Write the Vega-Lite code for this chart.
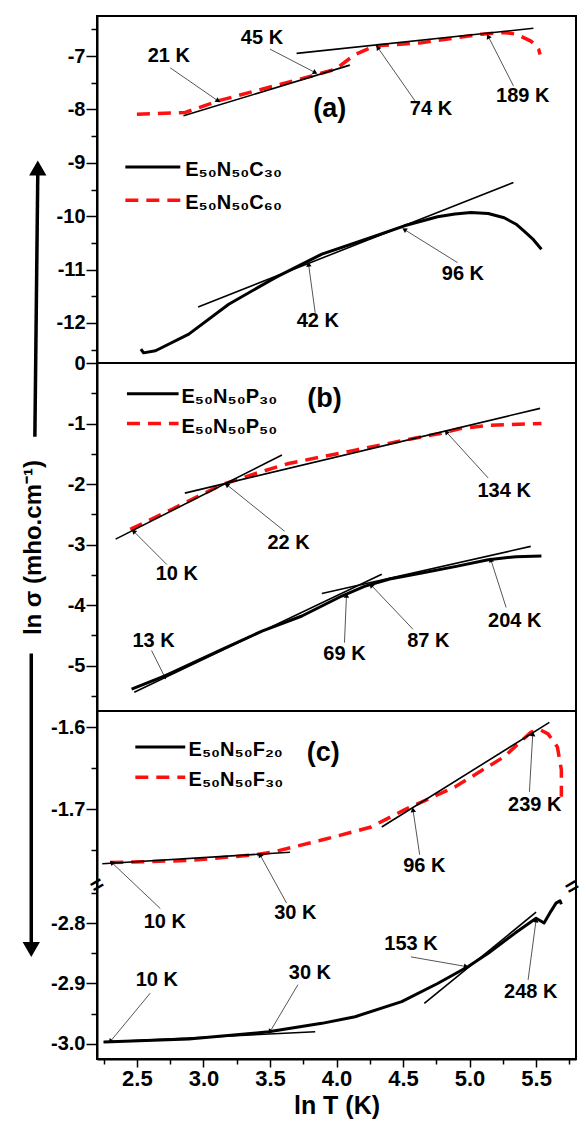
{
  "$schema": "https://vega.github.io/schema/vega-lite/v6.json",
  "background": "white",
  "padding": {"left": 21, "top": 15, "right": 2, "bottom": 2},
  "spacing": 0,
  "bounds": "flush",
  "datasets": {
    "curves": [
      {"p": "a", "s": "C60", "k": 1, "x": 2.50, "y": -8.09},
      {"p": "a", "s": "C60", "k": 2, "x": 2.86, "y": -8.06},
      {"p": "a", "s": "C60", "k": 3, "x": 3.11, "y": -7.84},
      {"p": "a", "s": "C60", "k": 4, "x": 3.44, "y": -7.62},
      {"p": "a", "s": "C60", "k": 5, "x": 3.76, "y": -7.41},
      {"p": "a", "s": "C60", "k": 6, "x": 3.99, "y": -7.25},
      {"p": "a", "s": "C60", "k": 7, "x": 4.14, "y": -6.97},
      {"p": "a", "s": "C60", "k": 8, "x": 4.29, "y": -6.81},
      {"p": "a", "s": "C60", "k": 9, "x": 4.64, "y": -6.75},
      {"p": "a", "s": "C60", "k": 10, "x": 5.09, "y": -6.59},
      {"p": "a", "s": "C60", "k": 11, "x": 5.26, "y": -6.56},
      {"p": "a", "s": "C60", "k": 12, "x": 5.35, "y": -6.59},
      {"p": "a", "s": "C60", "k": 13, "x": 5.41, "y": -6.66},
      {"p": "a", "s": "C60", "k": 14, "x": 5.46, "y": -6.72},
      {"p": "a", "s": "C60", "k": 15, "x": 5.49, "y": -6.78},
      {"p": "a", "s": "C60", "k": 16, "x": 5.52, "y": -6.88},
      {"p": "a", "s": "C60", "k": 17, "x": 5.53, "y": -6.97},
      {"p": "a", "s": "C30", "k": 1, "x": 2.53, "y": -12.49},
      {"p": "a", "s": "C30", "k": 2, "x": 2.55, "y": -12.56},
      {"p": "a", "s": "C30", "k": 3, "x": 2.64, "y": -12.52},
      {"p": "a", "s": "C30", "k": 4, "x": 2.89, "y": -12.21},
      {"p": "a", "s": "C30", "k": 5, "x": 3.19, "y": -11.65},
      {"p": "a", "s": "C30", "k": 6, "x": 3.54, "y": -11.15},
      {"p": "a", "s": "C30", "k": 7, "x": 3.89, "y": -10.71},
      {"p": "a", "s": "C30", "k": 8, "x": 4.26, "y": -10.40},
      {"p": "a", "s": "C30", "k": 9, "x": 4.51, "y": -10.18},
      {"p": "a", "s": "C30", "k": 10, "x": 4.76, "y": -10.01},
      {"p": "a", "s": "C30", "k": 11, "x": 4.89, "y": -9.96},
      {"p": "a", "s": "C30", "k": 12, "x": 5.01, "y": -9.93},
      {"p": "a", "s": "C30", "k": 13, "x": 5.14, "y": -9.95},
      {"p": "a", "s": "C30", "k": 14, "x": 5.26, "y": -10.03},
      {"p": "a", "s": "C30", "k": 15, "x": 5.35, "y": -10.15},
      {"p": "a", "s": "C30", "k": 16, "x": 5.41, "y": -10.28},
      {"p": "a", "s": "C30", "k": 17, "x": 5.48, "y": -10.44},
      {"p": "a", "s": "C30", "k": 18, "x": 5.54, "y": -10.62},
      {"p": "b", "s": "P50", "k": 1, "x": 2.45, "y": -2.75},
      {"p": "b", "s": "P50", "k": 2, "x": 2.76, "y": -2.42},
      {"p": "b", "s": "P50", "k": 3, "x": 3.14, "y": -2.01},
      {"p": "b", "s": "P50", "k": 4, "x": 3.40, "y": -1.82},
      {"p": "b", "s": "P50", "k": 5, "x": 3.64, "y": -1.66},
      {"p": "b", "s": "P50", "k": 6, "x": 4.14, "y": -1.44},
      {"p": "b", "s": "P50", "k": 7, "x": 4.64, "y": -1.22},
      {"p": "b", "s": "P50", "k": 8, "x": 4.79, "y": -1.16},
      {"p": "b", "s": "P50", "k": 9, "x": 4.94, "y": -1.08},
      {"p": "b", "s": "P50", "k": 10, "x": 5.14, "y": -1.03},
      {"p": "b", "s": "P50", "k": 11, "x": 5.54, "y": -1.00},
      {"p": "b", "s": "P30", "k": 1, "x": 2.46, "y": -5.39},
      {"p": "b", "s": "P30", "k": 2, "x": 2.71, "y": -5.17},
      {"p": "b", "s": "P30", "k": 3, "x": 3.14, "y": -4.73},
      {"p": "b", "s": "P30", "k": 4, "x": 3.44, "y": -4.43},
      {"p": "b", "s": "P30", "k": 5, "x": 3.74, "y": -4.18},
      {"p": "b", "s": "P30", "k": 6, "x": 4.04, "y": -3.85},
      {"p": "b", "s": "P30", "k": 7, "x": 4.21, "y": -3.69},
      {"p": "b", "s": "P30", "k": 8, "x": 4.40, "y": -3.57},
      {"p": "b", "s": "P30", "k": 9, "x": 4.64, "y": -3.47},
      {"p": "b", "s": "P30", "k": 10, "x": 4.90, "y": -3.36},
      {"p": "b", "s": "P30", "k": 11, "x": 5.14, "y": -3.25},
      {"p": "b", "s": "P30", "k": 12, "x": 5.35, "y": -3.20},
      {"p": "b", "s": "P30", "k": 13, "x": 5.54, "y": -3.19},
      {"p": "c", "s": "F30", "k": 1, "x": 2.30, "y": -1.7655},
      {"p": "c", "s": "F30", "k": 2, "x": 2.89, "y": -1.763},
      {"p": "c", "s": "F30", "k": 3, "x": 3.39, "y": -1.756},
      {"p": "c", "s": "F30", "k": 4, "x": 3.54, "y": -1.752},
      {"p": "c", "s": "F30", "k": 5, "x": 3.89, "y": -1.738},
      {"p": "c", "s": "F30", "k": 6, "x": 4.26, "y": -1.722},
      {"p": "c", "s": "F30", "k": 7, "x": 4.51, "y": -1.701},
      {"p": "c", "s": "F30", "k": 8, "x": 4.89, "y": -1.673},
      {"p": "c", "s": "F30", "k": 9, "x": 5.26, "y": -1.636},
      {"p": "c", "s": "F30", "k": 10, "x": 5.46, "y": -1.606},
      {"p": "c", "s": "F30", "k": 11, "x": 5.53, "y": -1.603},
      {"p": "c", "s": "F30", "k": 12, "x": 5.59, "y": -1.608},
      {"p": "c", "s": "F30", "k": 13, "x": 5.66, "y": -1.624},
      {"p": "c", "s": "F30", "k": 14, "x": 5.69, "y": -1.652},
      {"p": "c", "s": "F30", "k": 15, "x": 5.69, "y": -1.685},
      {"p": "c", "s": "F20", "k": 1, "x": 2.25, "y": -2.997},
      {"p": "c", "s": "F20", "k": 2, "x": 2.89, "y": -2.992},
      {"p": "c", "s": "F20", "k": 3, "x": 3.49, "y": -2.980},
      {"p": "c", "s": "F20", "k": 4, "x": 3.89, "y": -2.966},
      {"p": "c", "s": "F20", "k": 5, "x": 4.14, "y": -2.955},
      {"p": "c", "s": "F20", "k": 6, "x": 4.49, "y": -2.930},
      {"p": "c", "s": "F20", "k": 7, "x": 4.76, "y": -2.900},
      {"p": "c", "s": "F20", "k": 8, "x": 4.99, "y": -2.872},
      {"p": "c", "s": "F20", "k": 9, "x": 5.14, "y": -2.850},
      {"p": "c", "s": "F20", "k": 10, "x": 5.34, "y": -2.817},
      {"p": "c", "s": "F20", "k": 11, "x": 5.50, "y": -2.792},
      {"p": "c", "s": "F20", "k": 12, "x": 5.56, "y": -2.800},
      {"p": "c", "s": "F20", "k": 13, "x": 5.61, "y": -2.781},
      {"p": "c", "s": "F20", "k": 14, "x": 5.65, "y": -2.767},
      {"p": "c", "s": "F20", "k": 15, "x": 5.68, "y": -2.763},
      {"p": "c", "s": "F20", "k": 16, "x": 5.69, "y": -2.769}
    ],
    "fits": [
      {"p": "a", "id": "a1", "x": 2.85, "y": -8.12}, {"p": "a", "id": "a1", "x": 4.10, "y": -7.17},
      {"p": "a", "id": "a2", "x": 3.70, "y": -6.95}, {"p": "a", "id": "a2", "x": 5.48, "y": -6.48},
      {"p": "a", "id": "a3", "x": 2.96, "y": -11.70}, {"p": "a", "id": "a3", "x": 5.33, "y": -9.37},
      {"p": "b", "id": "b1", "x": 2.34, "y": -2.91}, {"p": "b", "id": "b1", "x": 3.59, "y": -1.52},
      {"p": "b", "id": "b2", "x": 2.86, "y": -2.15}, {"p": "b", "id": "b2", "x": 5.53, "y": -0.75},
      {"p": "b", "id": "b3", "x": 2.48, "y": -5.44}, {"p": "b", "id": "b3", "x": 4.34, "y": -3.49},
      {"p": "b", "id": "b4", "x": 3.89, "y": -3.81}, {"p": "b", "id": "b4", "x": 5.46, "y": -3.03},
      {"p": "c", "id": "c1", "x": 2.24, "y": -1.767}, {"p": "c", "id": "c1", "x": 3.65, "y": -1.753},
      {"p": "c", "id": "c2", "x": 4.34, "y": -1.722}, {"p": "c", "id": "c2", "x": 5.60, "y": -1.594},
      {"p": "c", "id": "c3", "x": 2.25, "y": -2.997}, {"p": "c", "id": "c3", "x": 3.84, "y": -2.980},
      {"p": "c", "id": "c4", "x": 4.66, "y": -2.933}, {"p": "c", "id": "c4", "x": 5.50, "y": -2.782}
    ],
    "notes": [
      {"p": "a", "label": "21 K", "tx": 2.74, "ty": -7.00, "x1": 2.75, "y1": -7.22, "x2": 3.11, "y2": -7.84, "dir": 124.6},
      {"p": "a", "label": "45 K", "tx": 3.44, "ty": -6.66, "x1": 3.50, "y1": -6.87, "x2": 3.84, "y2": -7.31, "dir": 117.5},
      {"p": "a", "label": "74 K", "tx": 4.71, "ty": -8.00, "x1": 4.59, "y1": -7.84, "x2": 4.31, "y2": -6.84, "dir": -34.5},
      {"p": "a", "label": "189 K", "tx": 5.40, "ty": -7.75, "x1": 5.33, "y1": -7.56, "x2": 5.14, "y2": -6.63, "dir": -26.6},
      {"p": "a", "label": "96 K", "tx": 4.95, "ty": -11.09, "x1": 4.91, "y1": -10.87, "x2": 4.51, "y2": -10.25, "dir": -57.9},
      {"p": "a", "label": "42 K", "tx": 3.86, "ty": -11.96, "x1": 3.84, "y1": -11.81, "x2": 3.79, "y2": -10.90, "dir": -7.9},
      {"p": "b", "label": "10 K", "tx": 2.80, "ty": -3.49, "x1": 2.725, "y1": -3.33, "x2": 2.475, "y2": -2.78, "dir": -45},
      {"p": "b", "label": "22 K", "tx": 3.64, "ty": -2.97, "x1": 3.61, "y1": -2.78, "x2": 3.175, "y2": -2.01, "dir": -51.4},
      {"p": "b", "label": "134 K", "tx": 5.26, "ty": -2.12, "x1": 5.14, "y1": -1.90, "x2": 4.825, "y2": -1.14, "dir": -41.8},
      {"p": "b", "label": "13 K", "tx": 2.625, "ty": -4.59, "x1": 2.61, "y1": -4.75, "x2": 2.71, "y2": -5.19, "dir": 153.4},
      {"p": "b", "label": "69 K", "tx": 4.06, "ty": -4.81, "x1": 4.06, "y1": -4.62, "x2": 4.075, "y2": -3.84, "dir": 1.9},
      {"p": "b", "label": "87 K", "tx": 4.69, "ty": -4.59, "x1": 4.575, "y1": -4.40, "x2": 4.26, "y2": -3.67, "dir": -43.5},
      {"p": "b", "label": "204 K", "tx": 5.34, "ty": -4.26, "x1": 5.275, "y1": -4.04, "x2": 5.16, "y2": -3.25, "dir": -17.2},
      {"p": "c", "label": "10 K", "tx": 2.71, "ty": -2.798, "x1": 2.676, "y1": -2.776, "x2": 2.31, "y2": -1.7654, "dir": -47.1},
      {"p": "c", "label": "30 K", "tx": 3.69, "ty": -2.784, "x1": 3.625, "y1": -2.767, "x2": 3.425, "y2": -1.756, "dir": -28.8},
      {"p": "c", "label": "96 K", "tx": 4.66, "ty": -1.770, "x1": 4.625, "y1": -1.756, "x2": 4.575, "y2": -1.701, "dir": -8.5},
      {"p": "c", "label": "239 K", "tx": 5.49, "ty": -1.695, "x1": 5.45, "y1": -1.679, "x2": 5.475, "y2": -1.608, "dir": 3.2},
      {"p": "c", "label": "10 K", "tx": 2.65, "ty": -2.894, "x1": 2.60, "y1": -2.916, "x2": 2.30, "y2": -2.996, "dir": -140.4},
      {"p": "c", "label": "30 K", "tx": 3.80, "ty": -2.883, "x1": 3.71, "y1": -2.902, "x2": 3.50, "y2": -2.980, "dir": -148.8},
      {"p": "c", "label": "153 K", "tx": 4.56, "ty": -2.834, "x1": 4.56, "y1": -2.856, "x2": 4.975, "y2": -2.872, "dir": 100.3},
      {"p": "c", "label": "248 K", "tx": 5.46, "ty": -2.914, "x1": 5.44, "y1": -2.894, "x2": 5.50, "y2": -2.795, "dir": 7.9}
    ],
    "keys": [
      {"p": "a", "s": "C30", "label": "E₅₀N₅₀C₃₀"},
      {"p": "a", "s": "C60", "label": "E₅₀N₅₀C₆₀"},
      {"p": "b", "s": "P30", "label": "E₅₀N₅₀P₃₀"},
      {"p": "b", "s": "P50", "label": "E₅₀N₅₀P₅₀"},
      {"p": "c", "s": "F20", "label": "E₅₀N₅₀F₂₀"},
      {"p": "c", "s": "F30", "label": "E₅₀N₅₀F₃₀"}
    ],
    "tags": [
      {"p": "a", "tag": "(a)"},
      {"p": "b", "tag": "(b)"},
      {"p": "c", "tag": "(c)"},
      {"p": "y", "tag": "ln σ (mho.cm⁻¹)"},
      {"p": "break", "tag": "="}
    ]
  },
  "vconcat": [
    {
      "width": 479,
      "height": 347,
      "resolve": {"axis": {"y": "independent"}},
      "layer": [
        {
          "data": {"name": "curves"},
          "transform": [{"filter": "datum.p === 'a' && datum.s === 'C30'"}],
          "mark": {"type": "line", "color": "black", "strokeWidth": 3, "strokeJoin": "round"},
          "encoding": {
            "x": {"field": "x", "type": "quantitative", "scale": {"domain": [2.2, 5.8], "nice": false, "zero": false}, "axis": null},
            "y": {
              "field": "y", "type": "quantitative",
              "scale": {"domain": [-12.75, -6.25], "nice": false, "zero": false},
              "axis": {"title": null, "values": [-12, -11, -10, -9, -8, -7], "labelExpr": "'-' + format(-datum.value, 'd')", "tickSize": 11}
            },
            "order": {"field": "k"}
          }
        },
        {
          "data": {"name": "curves"},
          "transform": [{"filter": "datum.p === 'a' && datum.s === 'C60'"}],
          "mark": {"type": "line", "color": "#ff1010", "strokeWidth": 3.5, "strokeDash": [13, 8]},
          "encoding": {
            "x": {"field": "x", "type": "quantitative", "axis": null},
            "y": {"field": "y", "type": "quantitative", "axis": {"title": null, "orient": "left", "values": [-12.5, -11.5, -10.5, -9.5, -8.5, -7.5, -6.5], "labels": false, "domain": false, "tickSize": 6}},
            "order": {"field": "k"}
          }
        },
        {
          "data": {"name": "fits"},
          "transform": [{"filter": "datum.p === 'a'"}],
          "mark": {"type": "line", "color": "black", "strokeWidth": 1.6},
          "encoding": {
            "x": {"field": "x", "type": "quantitative", "axis": null},
            "y": {"field": "y", "type": "quantitative", "axis": null},
            "detail": {"field": "id"}
          }
        },
        {
          "data": {"name": "notes"},
          "transform": [{"filter": "datum.p === 'a'"}],
          "mark": {"type": "rule", "color": "#555555", "strokeWidth": 1},
          "encoding": {
            "x": {"field": "x1", "type": "quantitative", "axis": null},
            "y": {"field": "y1", "type": "quantitative", "axis": null},
            "x2": {"field": "x2"},
            "y2": {"field": "y2"}
          }
        },
        {
          "data": {"name": "notes"},
          "transform": [{"filter": "datum.p === 'a'"}],
          "mark": {"type": "point", "shape": "triangle-up", "filled": true, "color": "black", "opacity": 1, "size": 30},
          "encoding": {
            "x": {"field": "x2", "type": "quantitative", "axis": null},
            "y": {"field": "y2", "type": "quantitative", "axis": null},
            "angle": {"field": "dir", "type": "quantitative", "scale": null}
          }
        },
        {
          "data": {"name": "notes"},
          "transform": [{"filter": "datum.p === 'a'"}],
          "mark": {"type": "text", "fontSize": 20, "fontWeight": "bold", "color": "black", "align": "center", "baseline": "middle"},
          "encoding": {
            "x": {"field": "tx", "type": "quantitative", "axis": null},
            "y": {"field": "ty", "type": "quantitative", "axis": null},
            "text": {"field": "label"}
          }
        },
        {
          "data": {"name": "tags"},
          "transform": [{"filter": "datum.p === 'a'"}],
          "mark": {"type": "text", "fontSize": 27, "fontWeight": "bold", "color": "black", "align": "center", "baseline": "middle"},
          "encoding": {
            "x": {"datum": 3.95, "type": "quantitative", "axis": null},
            "y": {"datum": -8.0, "type": "quantitative", "axis": null},
            "text": {"field": "tag"}
          }
        },
        {
          "data": {"name": "keys"},
          "transform": [{"filter": "datum.s === 'C30'"}],
          "layer": [
            {
              "mark": {"type": "rule", "color": "black", "strokeWidth": 3},
              "encoding": {
                "x": {"datum": 2.413, "type": "quantitative", "axis": null},
                "x2": {"datum": 2.826},
                "y": {"datum": -9.08, "type": "quantitative", "axis": null}
              }
            },
            {
              "mark": {"type": "text", "fontSize": 20, "fontWeight": "bold", "align": "left", "baseline": "middle", "dy": 3, "color": "black"},
              "encoding": {
                "x": {"datum": 2.863, "type": "quantitative", "axis": null},
                "y": {"datum": -9.08, "type": "quantitative", "axis": null},
                "text": {"field": "label"}
              }
            }
          ]
        },
        {
          "data": {"name": "keys"},
          "transform": [{"filter": "datum.s === 'C60'"}],
          "layer": [
            {
              "mark": {"type": "rule", "color": "#ff1010", "strokeWidth": 3.5, "strokeDash": [13, 8]},
              "encoding": {
                "x": {"datum": 2.413, "type": "quantitative", "axis": null},
                "x2": {"datum": 2.826},
                "y": {"datum": -9.70, "type": "quantitative", "axis": null}
              }
            },
            {
              "mark": {"type": "text", "fontSize": 20, "fontWeight": "bold", "align": "left", "baseline": "middle", "dy": 3, "color": "black"},
              "encoding": {
                "x": {"datum": 2.863, "type": "quantitative", "axis": null},
                "y": {"datum": -9.70, "type": "quantitative", "axis": null},
                "text": {"field": "label"}
              }
            }
          ]
        }
      ]
    },
    {
      "width": 479,
      "height": 348,
      "resolve": {"axis": {"y": "independent"}},
      "layer": [
        {
          "data": {"name": "curves"},
          "transform": [{"filter": "datum.p === 'b' && datum.s === 'P30'"}],
          "mark": {"type": "line", "color": "black", "strokeWidth": 3, "strokeJoin": "round"},
          "encoding": {
            "x": {"field": "x", "type": "quantitative", "scale": {"domain": [2.2, 5.8], "nice": false, "zero": false}, "axis": null},
            "y": {
              "field": "y", "type": "quantitative",
              "scale": {"domain": [-5.75, 0], "nice": false, "zero": false},
              "axis": {"title": null, "values": [-5, -4, -3, -2, -1, 0], "labelExpr": "datum.value < 0 ? '-' + format(-datum.value, 'd') : '0'", "tickSize": 11}
            },
            "order": {"field": "k"}
          }
        },
        {
          "data": {"name": "curves"},
          "transform": [{"filter": "datum.p === 'b' && datum.s === 'P50'"}],
          "mark": {"type": "line", "color": "#ff1010", "strokeWidth": 3.5, "strokeDash": [13, 8]},
          "encoding": {
            "x": {"field": "x", "type": "quantitative", "axis": null},
            "y": {"field": "y", "type": "quantitative", "axis": {"title": null, "orient": "left", "values": [-5.5, -4.5, -3.5, -2.5, -1.5, -0.5], "labels": false, "domain": false, "tickSize": 6}},
            "order": {"field": "k"}
          }
        },
        {
          "data": {"name": "fits"},
          "transform": [{"filter": "datum.p === 'b'"}],
          "mark": {"type": "line", "color": "black", "strokeWidth": 1.6},
          "encoding": {
            "x": {"field": "x", "type": "quantitative", "axis": null},
            "y": {"field": "y", "type": "quantitative", "axis": null},
            "detail": {"field": "id"}
          }
        },
        {
          "data": {"name": "notes"},
          "transform": [{"filter": "datum.p === 'b'"}],
          "mark": {"type": "rule", "color": "#555555", "strokeWidth": 1},
          "encoding": {
            "x": {"field": "x1", "type": "quantitative", "axis": null},
            "y": {"field": "y1", "type": "quantitative", "axis": null},
            "x2": {"field": "x2"},
            "y2": {"field": "y2"}
          }
        },
        {
          "data": {"name": "notes"},
          "transform": [{"filter": "datum.p === 'b'"}],
          "mark": {"type": "point", "shape": "triangle-up", "filled": true, "color": "black", "opacity": 1, "size": 30},
          "encoding": {
            "x": {"field": "x2", "type": "quantitative", "axis": null},
            "y": {"field": "y2", "type": "quantitative", "axis": null},
            "angle": {"field": "dir", "type": "quantitative", "scale": null}
          }
        },
        {
          "data": {"name": "notes"},
          "transform": [{"filter": "datum.p === 'b'"}],
          "mark": {"type": "text", "fontSize": 20, "fontWeight": "bold", "color": "black", "align": "center", "baseline": "middle"},
          "encoding": {
            "x": {"field": "tx", "type": "quantitative", "axis": null},
            "y": {"field": "ty", "type": "quantitative", "axis": null},
            "text": {"field": "label"}
          }
        },
        {
          "data": {"name": "tags"},
          "transform": [{"filter": "datum.p === 'b'"}],
          "mark": {"type": "text", "fontSize": 27, "fontWeight": "bold", "color": "black", "align": "center", "baseline": "middle"},
          "encoding": {
            "x": {"datum": 3.91, "type": "quantitative", "axis": null},
            "y": {"datum": -0.59, "type": "quantitative", "axis": null},
            "text": {"field": "tag"}
          }
        },
        {
          "data": {"name": "keys"},
          "transform": [{"filter": "datum.s === 'P30'"}],
          "layer": [
            {
              "mark": {"type": "rule", "color": "black", "strokeWidth": 3},
              "encoding": {
                "x": {"datum": 2.425, "type": "quantitative", "axis": null},
                "x2": {"datum": 2.813},
                "y": {"datum": -0.51, "type": "quantitative", "axis": null}
              }
            },
            {
              "mark": {"type": "text", "fontSize": 20, "fontWeight": "bold", "align": "left", "baseline": "middle", "dy": 3, "color": "black"},
              "encoding": {
                "x": {"datum": 2.835, "type": "quantitative", "axis": null},
                "y": {"datum": -0.51, "type": "quantitative", "axis": null},
                "text": {"field": "label"}
              }
            }
          ]
        },
        {
          "data": {"name": "keys"},
          "transform": [{"filter": "datum.s === 'P50'"}],
          "layer": [
            {
              "mark": {"type": "rule", "color": "#ff1010", "strokeWidth": 3.5, "strokeDash": [13, 8]},
              "encoding": {
                "x": {"datum": 2.425, "type": "quantitative", "axis": null},
                "x2": {"datum": 2.813},
                "y": {"datum": -1.0, "type": "quantitative", "axis": null}
              }
            },
            {
              "mark": {"type": "text", "fontSize": 20, "fontWeight": "bold", "align": "left", "baseline": "middle", "dy": 3, "color": "black"},
              "encoding": {
                "x": {"datum": 2.835, "type": "quantitative", "axis": null},
                "y": {"datum": -1.0, "type": "quantitative", "axis": null},
                "text": {"field": "label"}
              }
            }
          ]
        },
        {
          "data": {"name": "tags"},
          "transform": [{"filter": "datum.p === 'y'"}],
          "layer": [
            {
              "mark": {"type": "rule", "color": "black", "strokeWidth": 3.5},
              "encoding": {
                "x": {"datum": 1.755, "type": "quantitative", "axis": null},
                "y": {"datum": 3.14, "type": "quantitative", "axis": null},
                "x2": {"datum": 1.733},
                "y2": {"datum": -1.22}
              }
            },
            {
              "mark": {"type": "point", "shape": "triangle-up", "filled": true, "color": "black", "opacity": 1, "size": 300},
              "encoding": {
                "x": {"datum": 1.755, "type": "quantitative", "axis": null},
                "y": {"datum": 3.22, "type": "quantitative", "axis": null}
              }
            },
            {
              "mark": {"type": "rule", "color": "black", "strokeWidth": 3.5},
              "encoding": {
                "x": {"datum": 1.706, "type": "quantitative", "axis": null},
                "y": {"datum": -4.80, "type": "quantitative", "axis": null},
                "x2": {"datum": 1.706},
                "y2": {"datum": -9.62}
              }
            },
            {
              "mark": {"type": "point", "shape": "triangle-down", "filled": true, "color": "black", "opacity": 1, "size": 300},
              "encoding": {
                "x": {"datum": 1.706, "type": "quantitative", "axis": null},
                "y": {"datum": -9.69, "type": "quantitative", "axis": null}
              }
            },
            {
              "mark": {"type": "text", "fontSize": 24, "fontWeight": "bold", "color": "black", "align": "center", "baseline": "middle", "angle": 270},
              "encoding": {
                "x": {"datum": 1.730, "type": "quantitative", "axis": null},
                "y": {"datum": -3.05, "type": "quantitative", "axis": null},
                "text": {"field": "tag"}
              }
            }
          ]
        }
      ]
    },
    {
      "width": 479,
      "height": 348,
      "resolve": {"axis": {"x": "independent", "y": "independent"}},
      "layer": [
        {
          "data": {"name": "curves"},
          "transform": [{"filter": "datum.p === 'c' && datum.s === 'F20'"}],
          "mark": {"type": "line", "color": "black", "strokeWidth": 3, "strokeJoin": "round"},
          "encoding": {
            "x": {
              "field": "x", "type": "quantitative",
              "scale": {"domain": [2.2, 5.8], "nice": false, "zero": false},
              "axis": {"title": "ln T (K)", "values": [2.5, 3, 3.5, 4, 4.5, 5, 5.5], "format": ".1f", "tickSize": 8}
            },
            "y": {
              "field": "y", "type": "quantitative",
              "scale": {"domain": [-3.025, -2.737, -1.793, -1.58], "range": [348, 174, 174, 0], "nice": false, "zero": false},
              "axis": {"title": null, "values": [-3.0, -2.9, -2.8, -1.7, -1.6], "labelExpr": "'-' + format(-datum.value, '.1f')", "tickSize": 11}
            },
            "order": {"field": "k"}
          }
        },
        {
          "data": {"name": "curves"},
          "transform": [{"filter": "datum.p === 'c' && datum.s === 'F30'"}],
          "mark": {"type": "line", "color": "#ff1010", "strokeWidth": 3.5, "strokeDash": [13, 8]},
          "encoding": {
            "x": {"field": "x", "type": "quantitative", "axis": {"title": null, "orient": "bottom", "values": [2.25, 2.75, 3.25, 3.75, 4.25, 4.75, 5.25, 5.75], "labels": false, "domain": false, "tickSize": 5}},
            "y": {"field": "y", "type": "quantitative", "axis": {"title": null, "orient": "left", "values": [-2.95, -2.85, -2.75, -1.75, -1.65], "labels": false, "domain": false, "tickSize": 6}},
            "order": {"field": "k"}
          }
        },
        {
          "data": {"name": "fits"},
          "transform": [{"filter": "datum.p === 'c'"}],
          "mark": {"type": "line", "color": "black", "strokeWidth": 1.6},
          "encoding": {
            "x": {"field": "x", "type": "quantitative", "axis": null},
            "y": {"field": "y", "type": "quantitative", "axis": null},
            "detail": {"field": "id"}
          }
        },
        {
          "data": {"name": "notes"},
          "transform": [{"filter": "datum.p === 'c'"}],
          "mark": {"type": "rule", "color": "#555555", "strokeWidth": 1},
          "encoding": {
            "x": {"field": "x1", "type": "quantitative", "axis": null},
            "y": {"field": "y1", "type": "quantitative", "axis": null},
            "x2": {"field": "x2"},
            "y2": {"field": "y2"}
          }
        },
        {
          "data": {"name": "notes"},
          "transform": [{"filter": "datum.p === 'c'"}],
          "mark": {"type": "point", "shape": "triangle-up", "filled": true, "color": "black", "opacity": 1, "size": 30},
          "encoding": {
            "x": {"field": "x2", "type": "quantitative", "axis": null},
            "y": {"field": "y2", "type": "quantitative", "axis": null},
            "angle": {"field": "dir", "type": "quantitative", "scale": null}
          }
        },
        {
          "data": {"name": "notes"},
          "transform": [{"filter": "datum.p === 'c'"}],
          "mark": {"type": "text", "fontSize": 20, "fontWeight": "bold", "color": "black", "align": "center", "baseline": "middle"},
          "encoding": {
            "x": {"field": "tx", "type": "quantitative", "axis": null},
            "y": {"field": "ty", "type": "quantitative", "axis": null},
            "text": {"field": "label"}
          }
        },
        {
          "data": {"name": "tags"},
          "transform": [{"filter": "datum.p === 'c'"}],
          "mark": {"type": "text", "fontSize": 27, "fontWeight": "bold", "color": "black", "align": "center", "baseline": "middle"},
          "encoding": {
            "x": {"datum": 3.90, "type": "quantitative", "axis": null},
            "y": {"datum": -1.632, "type": "quantitative", "axis": null},
            "text": {"field": "tag"}
          }
        },
        {
          "data": {"name": "tags"},
          "transform": [{"filter": "datum.p === 'break'"}],
          "layer": [
            {
              "mark": {"type": "text", "fontSize": 22, "fontWeight": "bold", "color": "black", "align": "center", "baseline": "middle", "angle": -30},
              "encoding": {
                "x": {"datum": 2.2, "type": "quantitative", "axis": null},
                "y": {"datum": -2.737, "type": "quantitative", "axis": null},
                "text": {"field": "tag"}
              }
            },
            {
              "mark": {"type": "text", "fontSize": 22, "fontWeight": "bold", "color": "black", "align": "center", "baseline": "middle", "angle": -30},
              "encoding": {
                "x": {"datum": 5.77, "type": "quantitative", "axis": null},
                "y": {"datum": -2.740, "type": "quantitative", "axis": null},
                "text": {"field": "tag"}
              }
            }
          ]
        },
        {
          "data": {"name": "keys"},
          "transform": [{"filter": "datum.s === 'F20'"}],
          "layer": [
            {
              "mark": {"type": "rule", "color": "black", "strokeWidth": 3},
              "encoding": {
                "x": {"datum": 2.488, "type": "quantitative", "axis": null},
                "x2": {"datum": 2.863},
                "y": {"datum": -1.624, "type": "quantitative", "axis": null}
              }
            },
            {
              "mark": {"type": "text", "fontSize": 20, "fontWeight": "bold", "align": "left", "baseline": "middle", "dy": 3, "color": "black"},
              "encoding": {
                "x": {"datum": 2.888, "type": "quantitative", "axis": null},
                "y": {"datum": -1.624, "type": "quantitative", "axis": null},
                "text": {"field": "label"}
              }
            }
          ]
        },
        {
          "data": {"name": "keys"},
          "transform": [{"filter": "datum.s === 'F30'"}],
          "layer": [
            {
              "mark": {"type": "rule", "color": "#ff1010", "strokeWidth": 3.5, "strokeDash": [13, 8]},
              "encoding": {
                "x": {"datum": 2.488, "type": "quantitative", "axis": null},
                "x2": {"datum": 2.863},
                "y": {"datum": -1.661, "type": "quantitative", "axis": null}
              }
            },
            {
              "mark": {"type": "text", "fontSize": 20, "fontWeight": "bold", "align": "left", "baseline": "middle", "dy": 3, "color": "black"},
              "encoding": {
                "x": {"datum": 2.888, "type": "quantitative", "axis": null},
                "y": {"datum": -1.661, "type": "quantitative", "axis": null},
                "text": {"field": "label"}
              }
            }
          ]
        }
      ]
    }
  ],
  "config": {
    "font": "Liberation Sans",
    "view": {"stroke": "black", "strokeWidth": 2},
    "axis": {
      "grid": false,
      "domainColor": "black",
      "domainWidth": 2,
      "tickColor": "black",
      "tickWidth": 1.5,
      "labelColor": "black",
      "labelFont": "Liberation Sans",
      "labelFontWeight": "bold",
      "titleColor": "black",
      "titleFont": "Liberation Sans",
      "titleFontWeight": "bold"
    },
    "axisY": {"labelFontSize": 20, "labelPadding": 1},
    "axisX": {"labelFontSize": 22, "labelPadding": 1, "titleFontSize": 25, "titlePadding": 4}
  }
}
